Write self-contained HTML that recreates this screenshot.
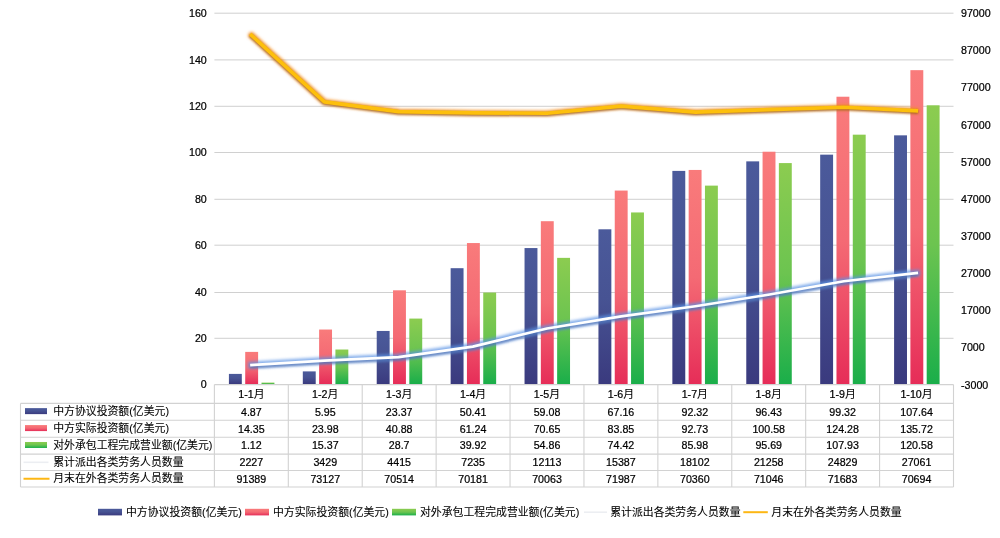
<!DOCTYPE html><html lang="zh"><head><meta charset="utf-8"><title>chart</title>
<style>html,body{margin:0;padding:0;background:#fff}svg{display:block}text{font-family:"Liberation Sans","Noto Sans CJK SC",sans-serif;font-size:10.67px;fill:#000;stroke:#000;stroke-width:0.22px}text.c,tspan.c{font-size:10.86px;stroke-width:0.08px}</style></head><body>
<svg width="1000" height="538" viewBox="0 0 1000 538">
<defs>
<linearGradient id="gb" x1="0" y1="0" x2="0" y2="1"><stop offset="0" stop-color="#4b5a9b"/><stop offset="0.45" stop-color="#475393"/><stop offset="1" stop-color="#3a3a7e"/></linearGradient>
<linearGradient id="gr" x1="0" y1="0" x2="0" y2="1"><stop offset="0" stop-color="#f97b7b"/><stop offset="0.5" stop-color="#f46a74"/><stop offset="1" stop-color="#e62d58"/></linearGradient>
<linearGradient id="gg" x1="0" y1="0" x2="0" y2="1"><stop offset="0" stop-color="#8ccc50"/><stop offset="0.5" stop-color="#6cc450"/><stop offset="1" stop-color="#1aae4a"/></linearGradient>
<filter id="glowB" x="-5%" y="-50%" width="110%" height="200%" color-interpolation-filters="sRGB"><feMorphology in="SourceAlpha" operator="dilate" radius="1.5" result="d"/><feGaussianBlur in="d" stdDeviation="1.6" result="b"/><feFlood flood-color="#5a92e4" flood-opacity="0.75"/><feComposite in2="b" operator="in" result="g"/><feGaussianBlur in="SourceAlpha" stdDeviation="1.2" result="b2"/><feOffset in="b2" dx="0" dy="1.6" result="o2"/><feFlood flood-color="#4a64a0" flood-opacity="0.6"/><feComposite in2="o2" operator="in" result="s"/><feMerge><feMergeNode in="g"/><feMergeNode in="s"/><feMergeNode in="SourceGraphic"/></feMerge></filter>
<filter id="glowY" x="-5%" y="-50%" width="110%" height="200%" color-interpolation-filters="sRGB"><feMorphology in="SourceAlpha" operator="dilate" radius="0.8" result="d"/><feGaussianBlur in="d" stdDeviation="1.5" result="b"/><feFlood flood-color="#f7901d" flood-opacity="0.85"/><feComposite in2="b" operator="in" result="g"/><feGaussianBlur in="SourceAlpha" stdDeviation="1.1" result="b2"/><feOffset in="b2" dx="0.4" dy="1.3" result="o2"/><feFlood flood-color="#7a4a20" flood-opacity="0.7"/><feComposite in2="o2" operator="in" result="s"/><feMerge><feMergeNode in="g"/><feMergeNode in="s"/><feMergeNode in="SourceGraphic"/></feMerge></filter>
</defs>
<rect width="1000" height="538" fill="#fff"/>
<text x="206.8" y="388.40" text-anchor="end">0</text>
<line x1="214.4" x2="953.5" y1="338.30" y2="338.30" stroke="#cbcbcb" stroke-width="0.9"/>
<text x="206.8" y="342.10" text-anchor="end">20</text>
<line x1="214.4" x2="953.5" y1="292.50" y2="292.50" stroke="#cbcbcb" stroke-width="0.9"/>
<text x="206.8" y="296.30" text-anchor="end">40</text>
<line x1="214.4" x2="953.5" y1="245.20" y2="245.20" stroke="#cbcbcb" stroke-width="0.9"/>
<text x="206.8" y="249.00" text-anchor="end">60</text>
<line x1="214.4" x2="953.5" y1="199.30" y2="199.30" stroke="#cbcbcb" stroke-width="0.9"/>
<text x="206.8" y="203.10" text-anchor="end">80</text>
<line x1="214.4" x2="953.5" y1="152.50" y2="152.50" stroke="#cbcbcb" stroke-width="0.9"/>
<text x="206.8" y="156.30" text-anchor="end">100</text>
<line x1="214.4" x2="953.5" y1="106.30" y2="106.30" stroke="#cbcbcb" stroke-width="0.9"/>
<text x="206.8" y="110.10" text-anchor="end">120</text>
<line x1="214.4" x2="953.5" y1="59.90" y2="59.90" stroke="#cbcbcb" stroke-width="0.9"/>
<text x="206.8" y="63.70" text-anchor="end">140</text>
<line x1="214.4" x2="953.5" y1="13.20" y2="13.20" stroke="#cbcbcb" stroke-width="0.9"/>
<text x="206.8" y="17.00" text-anchor="end">160</text>
<text x="961" y="17.20">97000</text>
<text x="961" y="54.34">87000</text>
<text x="961" y="91.48">77000</text>
<text x="961" y="128.62">67000</text>
<text x="961" y="165.76">57000</text>
<text x="961" y="202.90">47000</text>
<text x="961" y="240.04">37000</text>
<text x="961" y="277.18">27000</text>
<text x="961" y="314.32">17000</text>
<text x="961" y="351.46">7000</text>
<text x="961" y="388.60">-3000</text>
<rect x="228.91" y="373.90" width="12.90" height="10.10" fill="url(#gb)"/>
<rect x="245.21" y="351.89" width="12.90" height="32.11" fill="url(#gr)"/>
<rect x="261.51" y="382.60" width="12.90" height="1.40" fill="url(#gg)"/>
<rect x="302.81" y="371.39" width="12.90" height="12.61" fill="url(#gb)"/>
<rect x="319.12" y="329.54" width="12.90" height="54.46" fill="url(#gr)"/>
<rect x="335.42" y="349.52" width="12.90" height="34.48" fill="url(#gg)"/>
<rect x="376.72" y="330.95" width="12.90" height="53.05" fill="url(#gb)"/>
<rect x="393.02" y="290.31" width="12.90" height="93.69" fill="url(#gr)"/>
<rect x="409.32" y="318.58" width="12.90" height="65.42" fill="url(#gg)"/>
<rect x="450.64" y="268.19" width="12.90" height="115.81" fill="url(#gb)"/>
<rect x="466.94" y="243.05" width="12.90" height="140.95" fill="url(#gr)"/>
<rect x="483.24" y="292.54" width="12.90" height="91.46" fill="url(#gg)"/>
<rect x="524.54" y="248.06" width="12.90" height="135.94" fill="url(#gb)"/>
<rect x="540.84" y="221.20" width="12.90" height="162.80" fill="url(#gr)"/>
<rect x="557.14" y="257.86" width="12.90" height="126.14" fill="url(#gg)"/>
<rect x="598.45" y="229.30" width="12.90" height="154.70" fill="url(#gb)"/>
<rect x="614.75" y="190.56" width="12.90" height="193.44" fill="url(#gr)"/>
<rect x="631.05" y="212.45" width="12.90" height="171.55" fill="url(#gg)"/>
<rect x="672.36" y="170.90" width="12.90" height="213.10" fill="url(#gb)"/>
<rect x="688.66" y="169.95" width="12.90" height="214.05" fill="url(#gr)"/>
<rect x="704.96" y="185.62" width="12.90" height="198.38" fill="url(#gg)"/>
<rect x="746.27" y="161.36" width="12.90" height="222.64" fill="url(#gb)"/>
<rect x="762.57" y="151.73" width="12.90" height="232.27" fill="url(#gr)"/>
<rect x="778.87" y="163.08" width="12.90" height="220.92" fill="url(#gg)"/>
<rect x="820.18" y="154.65" width="12.90" height="229.35" fill="url(#gb)"/>
<rect x="836.48" y="96.72" width="12.90" height="287.28" fill="url(#gr)"/>
<rect x="852.78" y="134.67" width="12.90" height="249.33" fill="url(#gg)"/>
<rect x="894.09" y="135.34" width="12.90" height="248.66" fill="url(#gb)"/>
<rect x="910.39" y="70.16" width="12.90" height="313.84" fill="url(#gr)"/>
<rect x="926.69" y="105.30" width="12.90" height="278.70" fill="url(#gg)"/>
<polyline points="250.16,365.19 324.37,360.72 398.57,357.06 472.79,346.59 547.00,328.47 621.20,316.31 695.41,306.23 769.62,294.51 843.83,281.24 918.04,272.95" fill="none" stroke="#ffffff" stroke-width="2.7" stroke-linejoin="round" stroke-linecap="butt" filter="url(#glowB)"/>
<polyline points="250.16,34.04 324.37,101.86 398.57,111.57 472.79,112.81 547.00,113.24 621.20,106.10 695.41,112.14 769.62,109.59 843.83,107.23 918.04,110.90" fill="none" stroke="#fdbf0c" stroke-width="3.7" stroke-linejoin="round" stroke-linecap="butt" filter="url(#glowY)"/>
<line x1="214.4" x2="953.5" y1="384.60" y2="384.60" stroke="#d2d2d2" stroke-width="1.1"/>
<line x1="20.5" x2="953.5" y1="403.40" y2="403.40" stroke="#d2d2d2" stroke-width="1.1"/>
<line x1="20.5" x2="953.5" y1="420.30" y2="420.30" stroke="#d2d2d2" stroke-width="1.1"/>
<line x1="20.5" x2="953.5" y1="437.30" y2="437.30" stroke="#d2d2d2" stroke-width="1.1"/>
<line x1="20.5" x2="953.5" y1="454.10" y2="454.10" stroke="#d2d2d2" stroke-width="1.1"/>
<line x1="20.5" x2="953.5" y1="470.50" y2="470.50" stroke="#d2d2d2" stroke-width="1.1"/>
<line x1="20.5" x2="953.5" y1="487.00" y2="487.00" stroke="#d2d2d2" stroke-width="1.1"/>
<line x1="20.5" x2="20.5" y1="403.40" y2="487.00" stroke="#d2d2d2" stroke-width="1.1"/>
<line x1="214.40" x2="214.40" y1="384.60" y2="487.00" stroke="#d2d2d2" stroke-width="1.1"/>
<line x1="288.31" x2="288.31" y1="384.60" y2="487.00" stroke="#d2d2d2" stroke-width="1.1"/>
<line x1="362.22" x2="362.22" y1="384.60" y2="487.00" stroke="#d2d2d2" stroke-width="1.1"/>
<line x1="436.13" x2="436.13" y1="384.60" y2="487.00" stroke="#d2d2d2" stroke-width="1.1"/>
<line x1="510.04" x2="510.04" y1="384.60" y2="487.00" stroke="#d2d2d2" stroke-width="1.1"/>
<line x1="583.95" x2="583.95" y1="384.60" y2="487.00" stroke="#d2d2d2" stroke-width="1.1"/>
<line x1="657.86" x2="657.86" y1="384.60" y2="487.00" stroke="#d2d2d2" stroke-width="1.1"/>
<line x1="731.77" x2="731.77" y1="384.60" y2="487.00" stroke="#d2d2d2" stroke-width="1.1"/>
<line x1="805.68" x2="805.68" y1="384.60" y2="487.00" stroke="#d2d2d2" stroke-width="1.1"/>
<line x1="879.59" x2="879.59" y1="384.60" y2="487.00" stroke="#d2d2d2" stroke-width="1.1"/>
<line x1="953.50" x2="953.50" y1="384.60" y2="487.00" stroke="#d2d2d2" stroke-width="1.1"/>
<text x="251.36" y="398.00" text-anchor="middle">1-1<tspan class="c">月</tspan></text>
<text x="251.36" y="415.70" text-anchor="middle">4.87</text>
<text x="251.36" y="432.50" text-anchor="middle">14.35</text>
<text x="251.36" y="449.30" text-anchor="middle">1.12</text>
<text x="251.36" y="466.10" text-anchor="middle">2227</text>
<text x="251.36" y="483.10" text-anchor="middle">91389</text>
<text x="325.26" y="398.00" text-anchor="middle">1-2<tspan class="c">月</tspan></text>
<text x="325.26" y="415.70" text-anchor="middle">5.95</text>
<text x="325.26" y="432.50" text-anchor="middle">23.98</text>
<text x="325.26" y="449.30" text-anchor="middle">15.37</text>
<text x="325.26" y="466.10" text-anchor="middle">3429</text>
<text x="325.26" y="483.10" text-anchor="middle">73127</text>
<text x="399.17" y="398.00" text-anchor="middle">1-3<tspan class="c">月</tspan></text>
<text x="399.17" y="415.70" text-anchor="middle">23.37</text>
<text x="399.17" y="432.50" text-anchor="middle">40.88</text>
<text x="399.17" y="449.30" text-anchor="middle">28.7</text>
<text x="399.17" y="466.10" text-anchor="middle">4415</text>
<text x="399.17" y="483.10" text-anchor="middle">70514</text>
<text x="473.09" y="398.00" text-anchor="middle">1-4<tspan class="c">月</tspan></text>
<text x="473.09" y="415.70" text-anchor="middle">50.41</text>
<text x="473.09" y="432.50" text-anchor="middle">61.24</text>
<text x="473.09" y="449.30" text-anchor="middle">39.92</text>
<text x="473.09" y="466.10" text-anchor="middle">7235</text>
<text x="473.09" y="483.10" text-anchor="middle">70181</text>
<text x="547.00" y="398.00" text-anchor="middle">1-5<tspan class="c">月</tspan></text>
<text x="547.00" y="415.70" text-anchor="middle">59.08</text>
<text x="547.00" y="432.50" text-anchor="middle">70.65</text>
<text x="547.00" y="449.30" text-anchor="middle">54.86</text>
<text x="547.00" y="466.10" text-anchor="middle">12113</text>
<text x="547.00" y="483.10" text-anchor="middle">70063</text>
<text x="620.90" y="398.00" text-anchor="middle">1-6<tspan class="c">月</tspan></text>
<text x="620.90" y="415.70" text-anchor="middle">67.16</text>
<text x="620.90" y="432.50" text-anchor="middle">83.85</text>
<text x="620.90" y="449.30" text-anchor="middle">74.42</text>
<text x="620.90" y="466.10" text-anchor="middle">15387</text>
<text x="620.90" y="483.10" text-anchor="middle">71987</text>
<text x="694.81" y="398.00" text-anchor="middle">1-7<tspan class="c">月</tspan></text>
<text x="694.81" y="415.70" text-anchor="middle">92.32</text>
<text x="694.81" y="432.50" text-anchor="middle">92.73</text>
<text x="694.81" y="449.30" text-anchor="middle">85.98</text>
<text x="694.81" y="466.10" text-anchor="middle">18102</text>
<text x="694.81" y="483.10" text-anchor="middle">70360</text>
<text x="768.72" y="398.00" text-anchor="middle">1-8<tspan class="c">月</tspan></text>
<text x="768.72" y="415.70" text-anchor="middle">96.43</text>
<text x="768.72" y="432.50" text-anchor="middle">100.58</text>
<text x="768.72" y="449.30" text-anchor="middle">95.69</text>
<text x="768.72" y="466.10" text-anchor="middle">21258</text>
<text x="768.72" y="483.10" text-anchor="middle">71046</text>
<text x="842.63" y="398.00" text-anchor="middle">1-9<tspan class="c">月</tspan></text>
<text x="842.63" y="415.70" text-anchor="middle">99.32</text>
<text x="842.63" y="432.50" text-anchor="middle">124.28</text>
<text x="842.63" y="449.30" text-anchor="middle">107.93</text>
<text x="842.63" y="466.10" text-anchor="middle">24829</text>
<text x="842.63" y="483.10" text-anchor="middle">71683</text>
<text x="916.54" y="398.00" text-anchor="middle">1-10<tspan class="c">月</tspan></text>
<text x="916.54" y="415.70" text-anchor="middle">107.64</text>
<text x="916.54" y="432.50" text-anchor="middle">135.72</text>
<text x="916.54" y="449.30" text-anchor="middle">120.58</text>
<text x="916.54" y="466.10" text-anchor="middle">27061</text>
<text x="916.54" y="483.10" text-anchor="middle">70694</text>
<rect x="25" y="408.13" width="22" height="6" fill="url(#gb)"/>
<text class="c" x="53.2" y="415.35">中方协议投资额(亿美元)</text>
<rect x="25" y="425.08" width="22" height="6" fill="url(#gr)"/>
<text class="c" x="53.2" y="432.30">中方实际投资额(亿美元)</text>
<rect x="25" y="441.98" width="22" height="6" fill="url(#gg)"/>
<text class="c" x="53.2" y="449.20">对外承包工程完成营业额(亿美元)</text>
<line x1="23.5" x2="48.5" y1="462.30" y2="462.30" stroke="#eceef2" stroke-width="1.6"/>
<text class="c" x="53.2" y="465.80">累计派出各类劳务人员数量</text>
<line x1="23.5" x2="49.5" y1="478.75" y2="478.75" stroke="#fdb714" stroke-width="2"/>
<text class="c" x="53.2" y="482.25">月末在外各类劳务人员数量</text>
<rect x="98.0" y="508.8" width="24" height="6.6" fill="url(#gb)"/>
<text class="c" x="126.0" y="516.0">中方协议投资额(亿美元)</text>
<rect x="245.0" y="508.8" width="24" height="6.6" fill="url(#gr)"/>
<text class="c" x="273.0" y="516.0">中方实际投资额(亿美元)</text>
<rect x="392.0" y="508.8" width="24" height="6.6" fill="url(#gg)"/>
<text class="c" x="420.0" y="516.0">对外承包工程完成营业额(亿美元)</text>
<line x1="584.0" x2="607.0" y1="512.2" y2="512.2" stroke="#eceef2" stroke-width="1.6"/>
<text class="c" x="610.2" y="516.0">累计派出各类劳务人员数量</text>
<line x1="743.3" x2="767.8" y1="512.2" y2="512.2" stroke="#fdb714" stroke-width="2"/>
<text class="c" x="771.3" y="516.0">月末在外各类劳务人员数量</text>
</svg></body></html>
